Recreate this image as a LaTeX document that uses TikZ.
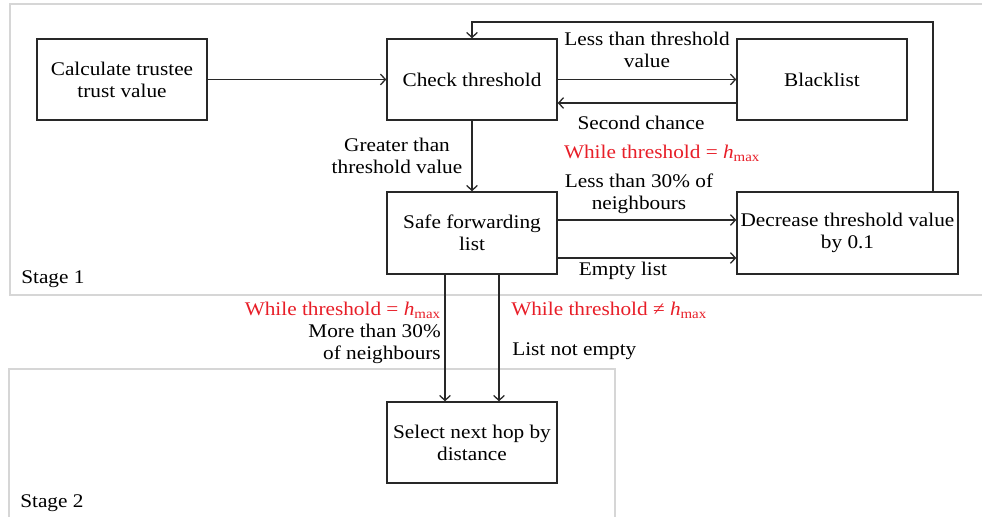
\documentclass[tikz,border=0pt]{standalone}
\usepackage{fontspec}
\setmainfont[FakeStretch=1.1]{Liberation Serif}
\usetikzlibrary{arrows.meta}
\definecolor{cond}{RGB}{232,30,40}
\definecolor{frame}{RGB}{214,214,214}
\definecolor{ink}{RGB}{40,40,40}
\newcommand{\hmax}{\textit{h}\textsubscript{max}}
\tikzset{
  stagebox/.style={draw=frame, line width=1.2pt},
  procbox/.style={draw=ink, line width=0.95pt, align=center, inner sep=0pt},
  flow/.style={draw=ink, line width=0.95pt, -{Straight Barb[length=3.8pt,width=8pt]}},
  lbl/.style={align=center, inner sep=0pt},
  redlbl/.style={lbl, text=cond}
}
\begin{document}
\begin{tikzpicture}[x=0.75pt,y=-0.75pt, every node/.style={font=\fontsize{14.5}{16.5}\selectfont}]
\useasboundingbox (0,0) rectangle (982,517);
\fill[white] (0,0) rectangle (982,517);
% stage frames
\draw[stagebox] (10,4) rectangle (990,295);
\draw[stagebox] (9,369) rectangle (615,530);
\node[anchor=west, inner sep=0pt] (s1) at (21,279) {Stage 1};
\node[anchor=west, inner sep=0pt] (s2) at (20,503) {Stage 2};
% process boxes
\node[procbox, minimum width=170*0.75pt, minimum height=81*0.75pt] (calc) at (122,79.5) {Calculate trustee\\trust value};
\node[procbox, minimum width=170*0.75pt, minimum height=81*0.75pt] (check) at (472,79.5) {Check threshold};
\node[procbox, minimum width=170*0.75pt, minimum height=81*0.75pt] (black) at (822,79.5) {Blacklist};
\node[procbox, minimum width=170*0.75pt, minimum height=82*0.75pt] (safe) at (472,233) {Safe forwarding\\list};
\node[procbox, minimum width=221*0.75pt, minimum height=82*0.75pt] (dec) at (847.5,233) {Decrease threshold value\\by 0.1};
\node[procbox, minimum width=170*0.75pt, minimum height=81*0.75pt] (sel) at (472,442.5) {Select next hop by\\distance};
% connectors
\draw[flow] (calc.east) -- (check.west);
\draw[flow] (check.east) -- (black.west);
\draw[flow] (black.west |- 0,103) -- (check.east |- 0,103);
\draw[flow] (check.south) -- (safe.north);
\draw[flow] (safe.east |- 0,220) -- (dec.west |- 0,220);
\draw[flow] (safe.east |- 0,258) -- (dec.west |- 0,258);
\coordinate (up) at (933,22);
\draw[flow] (dec.north -| up) -- (up) -| (check.north);
\draw[flow] (safe.south -| 445,0) -- (sel.north -| 445,0);
\draw[flow] (safe.south -| 499,0) -- (sel.north -| 499,0);
% labels
\node[lbl] (l1) at (647,50) {Less than threshold\\value};
\node[lbl] (l2) at (641,123) {Second chance};
\node[redlbl] (l3) at (662,153) {While threshold = \hmax};
\node[lbl] (l4) at (397,156) {Greater than\\threshold value};
\node[lbl] (l5) at (639,194) {Less than 30\% of\\neighbours};
\node[lbl] (l6) at (623,271) {Empty list};
\node[redlbl, anchor=east] (l7) at (441,310) {While threshold = \hmax};
\node[lbl, align=right, anchor=north east] (l8) at (441,324) {More than 30\%\\of neighbours};
\node[redlbl, anchor=west] (l9) at (511,310) {While threshold ≠ \hmax};
\node[lbl, anchor=west] (l10) at (512,351) {List not empty};
\end{tikzpicture}
\end{document}
